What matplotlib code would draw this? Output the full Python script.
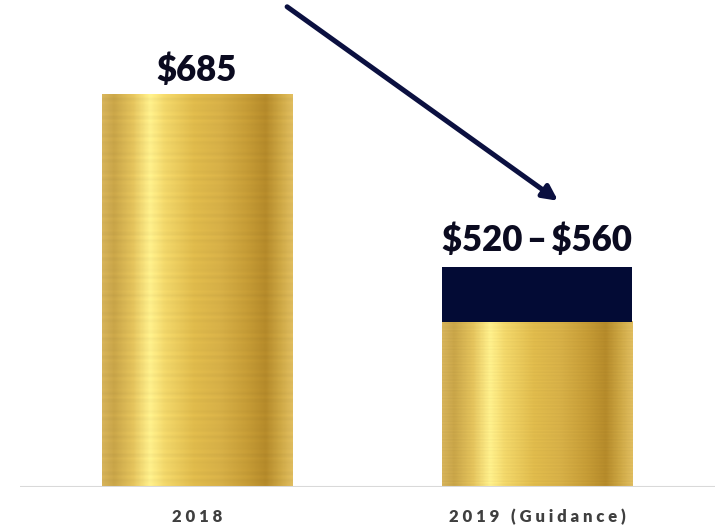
import matplotlib
matplotlib.use("Agg")
import matplotlib.pyplot as plt
import numpy as np
from matplotlib.colors import LinearSegmentedColormap

plt.rcParams["font.family"] = ["Lato", "DejaVu Sans"]

# revenue, $ millions
categories = ["2018", "2019 (Guidance)"]
actual_2018 = 685
guidance_low = 520
guidance_high = 560
axis_floor = 400

bar_width = 0.56
navy = "#030b35"

# brushed gold look across the bar width
gold = LinearSegmentedColormap.from_list("gold", [
    (0.00, "#d6b35a"), (0.06, "#c9a548"), (0.16, "#e4c35c"),
    (0.25, "#fff08c"), (0.33, "#f2d76a"), (0.48, "#e0bb4c"),
    (0.62, "#d7b047"), (0.76, "#c69c36"), (0.86, "#b58a2a"),
    (0.94, "#cea845"), (1.00, "#dfbc5e"),
])


def gold_bar(ax, x, bottom, top):
    xs = np.linspace(0, 1, 300)
    img = gold(xs)[None, :, :3].repeat(200, axis=0)
    # fine horizontal brush lines
    rows = np.arange(200)
    shade = 1 + 0.025 * np.sin(rows * 1.7) * np.sin(rows * 0.31)
    img = np.clip(img * shade[:, None, None], 0, 1)
    ax.imshow(img, aspect="auto", interpolation="bilinear",
              extent=(x - bar_width / 2, x + bar_width / 2, bottom, top),
              origin="lower", zorder=2)


fig = plt.figure(figsize=(7.15, 5.29), dpi=100)
ax = fig.add_axes([20 / 715, 42 / 529, 695 / 715, 487 / 529])

x = np.arange(len(categories))
gold_bar(ax, x[0], axis_floor, actual_2018)
gold_bar(ax, x[1], axis_floor, guidance_low)
ax.bar(x[1], guidance_high - guidance_low, bar_width, bottom=guidance_low,
       color=navy, zorder=3)

ax.set_xlim(-0.5206, 1.5235)
ax.set_ylim(axis_floor, axis_floor + 487 / 1.376)
ax.axhline(axis_floor, color="#d9d9d9", lw=1.5, zorder=4)

label_style = dict(ha="center", va="bottom", fontsize=25, fontweight="heavy",
                   color="#0b0b20", textcoords="offset points")
ax.annotate(f"\\${actual_2018}", (x[0], actual_2018), xytext=(0, 6), **label_style)
ax.annotate(f"\\${guidance_low}\u2009\u2013\u2009\\${guidance_high}",
            (x[1], guidance_high), xytext=(0, 7), **label_style)

# downward trend arrow
ax.annotate("", xy=(1.062, 608), xytext=(0.265, 749),
            arrowprops=dict(arrowstyle="-|>", color="#0b1040", lw=3.6,
                            mutation_scale=22, shrinkA=0, shrinkB=0),
            annotation_clip=False, zorder=5)

ax.set_xticks(x)
ax.set_xticklabels([" ".join(c) for c in categories], fontsize=12,
                   fontweight="heavy", color="#3f3f3f")
ax.tick_params(axis="x", length=0, pad=16)
ax.set_yticks([])
for s in ax.spines.values():
    s.set_visible(False)

fig.savefig("out.png", dpi=100)
